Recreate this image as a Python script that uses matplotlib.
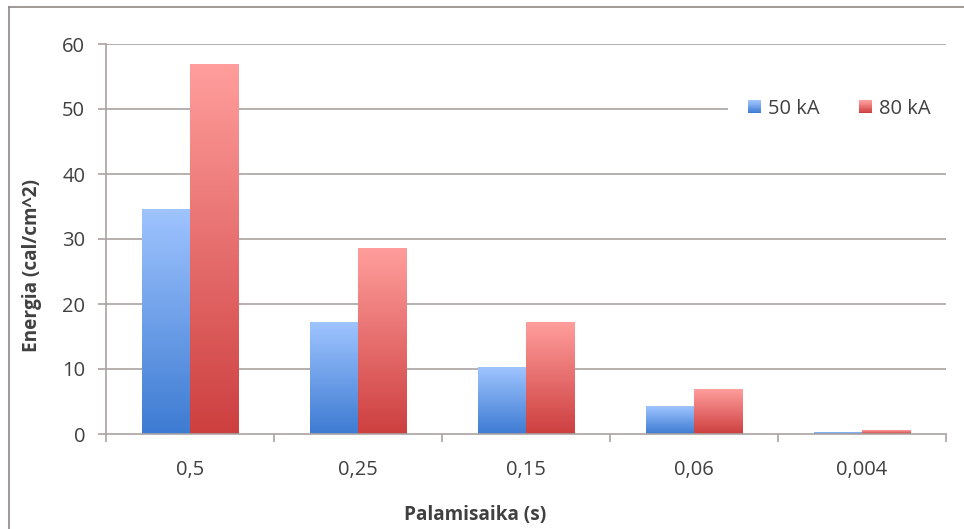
import numpy as np
import matplotlib
matplotlib.use("Agg")
import matplotlib.pyplot as plt
from matplotlib.colors import LinearSegmentedColormap
from matplotlib.patches import Rectangle
from matplotlib.legend_handler import HandlerBase
from matplotlib.lines import Line2D

# Arc-flash incident energy by clearing time
categories = ["0,5", "0,25", "0,15", "0,06", "0,004"]
series_names = ["50 kA", "80 kA"]
energy_50ka = [34.6, 17.2, 10.3, 4.3, 0.3]
energy_80ka = [56.8, 28.5, 17.1, 6.8, 0.6]
y_ticks = [0, 10, 20, 30, 40, 50, 60]

# gradient colours (bottom, top) for each series
blue_grad = ("#3d7bd2", "#9fc4ff")
red_grad = ("#cd3f3f", "#ff9e9c")

plt.rcParams["font.family"] = ["Open Sans", "DejaVu Sans"]
text_color = "#404040"
grid_color = "#a9a3a1"
tick_fs = 14.5
label_fs = 13.7

W, H = 964, 529
fig = plt.figure(figsize=(W / 100, H / 100), dpi=100)
ax = fig.add_axes([106 / W, 1 - 434 / H, (946 - 106) / W, (434 - 44) / H])

x = np.arange(len(categories))
bw = 0.286
bars50 = ax.bar(x - bw / 2, energy_50ka, bw, facecolor="none", edgecolor="none")
bars80 = ax.bar(x + bw / 2, energy_80ka, bw, facecolor="none", edgecolor="none")


def fill_gradient(bars, colors):
    cmap = LinearSegmentedColormap.from_list("g", list(colors))
    grad = np.linspace(0, 1, 256).reshape(-1, 1)
    for b in bars:
        x0, y0 = b.get_x(), b.get_y()
        ax.imshow(grad, extent=[x0, x0 + b.get_width(), y0, y0 + b.get_height()],
                  origin="lower", aspect="auto", cmap=cmap, zorder=3,
                  interpolation="bilinear")


fill_gradient(bars50, blue_grad)
fill_gradient(bars80, red_grad)

ax.set_xlim(-0.5, len(categories) - 0.5)
ax.set_ylim(0, 60)
ax.set_yticks(y_ticks)
ax.set_xticks(x)
ax.set_xticklabels(categories)
ax.set_xticks(np.arange(len(categories) + 1) - 0.5, minor=True)

for v in y_ticks[1:]:
    ax.axhline(v, color=grid_color, lw=1.2, zorder=1)

for s in ["top", "right"]:
    ax.spines[s].set_visible(False)
for s in ["left", "bottom"]:
    ax.spines[s].set_color(grid_color)
    ax.spines[s].set_linewidth(1.2)
    ax.spines[s].set_zorder(4)

ax.tick_params(axis="y", length=6, width=1.2, color=grid_color, pad=9,
               labelsize=tick_fs, labelcolor=text_color)
ax.tick_params(axis="x", which="major", length=0, pad=19,
               labelsize=tick_fs, labelcolor=text_color)
ax.tick_params(axis="x", which="minor", length=6, width=1.2, color=grid_color)

fig.text(32 / W, 1 - 265 / H, "Energia (cal/cm^2)", rotation=90, ha="center",
         va="center", fontsize=label_fs, fontweight="bold", color=text_color)
fig.text(475 / W, 1 - 515 / H, "Palamisaika (s)", ha="center", va="center",
         fontsize=label_fs, fontweight="bold", color=text_color)


class GradientSquare(HandlerBase):
    def __init__(self, colors, n=16):
        super().__init__()
        self.cmap = LinearSegmentedColormap.from_list("h", list(colors))
        self.n = n

    def create_artists(self, legend, orig_handle, xdescent, ydescent,
                       width, height, fontsize, trans):
        side = min(width, height)
        x0 = -xdescent + (width - side) / 2
        y0 = -ydescent + (height - side) / 2
        arts = []
        for i in range(self.n):
            arts.append(Rectangle((x0, y0 + side * i / self.n), side,
                                  side / self.n + 0.3, facecolor=self.cmap(i / (self.n - 1)),
                                  edgecolor="none", transform=trans))
        return arts


# white legend area hiding the gridline behind it
fig.add_artist(Rectangle((728 / W, 1 - 122 / H), (950 - 728) / W, 28 / H,
                         facecolor="white", edgecolor="none",
                         transform=fig.transFigure, zorder=2))

h50 = Rectangle((0, 0), 1, 1)
h80 = Rectangle((0, 0), 1, 1)
leg = fig.legend([h50, h80], series_names, ncol=2, loc="center left",
                 bbox_to_anchor=(732 / W, 1 - 109 / H), bbox_transform=fig.transFigure,
                 handler_map={h50: GradientSquare(blue_grad), h80: GradientSquare(red_grad)},
                 frameon=False, fontsize=tick_fs, handlelength=0.62, handleheight=0.62,
                 handletextpad=0.38, columnspacing=1.95, borderpad=0.3,
                 labelcolor=text_color)
leg.set_zorder(5)

# chart border (top and left edges visible within the canvas)
fig.add_artist(Line2D([9 / W, 1], [1 - 7 / H, 1 - 7 / H], color="#8d8785", lw=1.2,
                      transform=fig.transFigure))
fig.add_artist(Line2D([9 / W, 9 / W], [1 - 7 / H, 0], color="#8d8785", lw=1.2,
                      transform=fig.transFigure))

fig.savefig("out.png", dpi=100, facecolor="white")
